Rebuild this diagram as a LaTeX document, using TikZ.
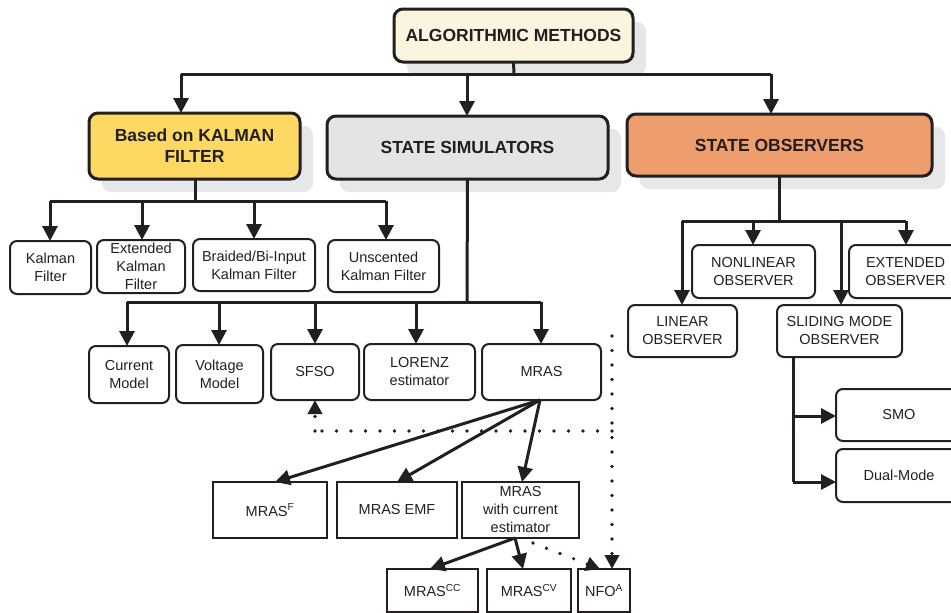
\documentclass[tikz,border=0pt]{standalone}
\usepackage{fontspec}
\setmainfont{Liberation Sans}
\usetikzlibrary{arrows.meta,backgrounds}
\definecolor{ink}{HTML}{231F20}
\definecolor{shadowgrey}{HTML}{E6E7E8}
\definecolor{creamfill}{HTML}{FBF5DF}
\definecolor{kalfill}{HTML}{FDD964}
\definecolor{simfill}{HTML}{E3E4E6}
\definecolor{obsfill}{HTML}{EE9E6C}
\tikzset{
  mainbox/.style={draw=ink, line width=3pt, rounded corners=9pt, align=center, inner sep=0pt, outer sep=0pt,
    text=ink, font=\fontsize{17.5}{21}\selectfont\bfseries},
  sbox/.style={draw=ink, line width=2pt, rounded corners=7pt, align=center, inner sep=0pt, outer sep=0pt,
    text=ink, font=\fontsize{14.5}{18}\selectfont},
  rbox/.style={draw=ink, line width=2.6pt, align=center, inner sep=0pt, outer sep=0pt,
    text=ink, font=\fontsize{14.5}{18}\selectfont},
  wire/.style={draw=ink, line width=3pt},
  conn/.style={draw=ink, line width=3pt, -{Triangle[length=15pt,width=15pt]}},
  dotline/.style={draw=ink, line width=3.6pt, line cap=round, dash pattern=on 0pt off 14.5pt},
  dotarrow/.style={dotline, -{Triangle[length=14pt,width=14pt]}},
  shadowbox/.style={fill=shadowgrey, rounded corners=9pt},
}
\begin{document}
\begin{tikzpicture}[x=1pt,y=-1pt]
\useasboundingbox (0,0) rectangle (951,613);
\clip (0,0) rectangle (951,613);
% main boxes
\node[mainbox, fill=creamfill, minimum width=239pt, minimum height=53pt] (alg) at (513.5,35.5) {ALGORITHMIC METHODS};
\node[mainbox, fill=kalfill, minimum width=211pt, minimum height=66pt] (kal) at (194.5,146) {Based on KALMAN\\FILTER};
\node[mainbox, fill=simfill, minimum width=281pt, minimum height=63pt] (sim) at (467.5,147.5) {STATE SIMULATORS};
\node[mainbox, fill=obsfill, minimum width=305pt, minimum height=62pt] (obs) at (779.5,145) {STATE OBSERVERS};
\begin{scope}[on background layer]
  \foreach \n in {alg,kal,sim,obs}
    \fill[shadowbox] ([shift={(13,13)}]\n.north west) rectangle ([shift={(13,13)}]\n.south east);
\end{scope}
% Kalman family
\node[sbox, minimum width=81pt, minimum height=53pt] (kf) at (50.5,267.5) {Kalman\\Filter};
\node[sbox, minimum width=88pt, minimum height=53pt] (ekf) at (141,266.5) {Extended\\Kalman\\Filter};
\node[sbox, minimum width=122pt, minimum height=52pt] (bkf) at (254,265) {Braided/Bi-Input\\Kalman Filter};
\node[sbox, minimum width=111pt, minimum height=52pt] (ukf) at (383.5,266) {Unscented\\Kalman Filter};
% simulators
\node[sbox, minimum width=80pt, minimum height=57pt] (cm) at (129,374.5) {Current\\Model};
\node[sbox, minimum width=87pt, minimum height=58pt] (vm) at (219.5,374) {Voltage\\Model};
\node[sbox, minimum width=88pt, minimum height=56pt] (sfso) at (315,372) {SFSO};
\node[sbox, minimum width=111pt, minimum height=56pt] (lor) at (419.5,372) {LORENZ\\estimator};
\node[sbox, minimum width=119pt, minimum height=56pt] (mras) at (541.5,372) {MRAS};
% observers
\node[sbox, minimum width=123pt, minimum height=53pt] (nonlin) at (753.5,271.5) {NONLINEAR\\OBSERVER};
\node[sbox, minimum width=113pt, minimum height=53pt] (ext) at (905.5,271.5) {EXTENDED\\OBSERVER};
\node[sbox, minimum width=109pt, minimum height=52pt] (lin) at (682.5,331) {LINEAR\\OBSERVER};
\node[sbox, minimum width=125pt, minimum height=52pt] (slide) at (839.5,331) {SLIDING MODE\\OBSERVER};
\node[sbox, minimum width=126pt, minimum height=52pt] (smo) at (899,415) {SMO};
\node[sbox, minimum width=126pt, minimum height=53pt] (dual) at (899,475.5) {Dual-Mode};
% MRAS family
\node[rbox, minimum width=114pt, minimum height=56pt] (mf) at (270,510) {MRAS\textsuperscript{F}};
\node[rbox, minimum width=120pt, minimum height=56pt] (memf) at (397,510) {MRAS EMF};
\node[rbox, minimum width=117pt, minimum height=56pt] (mce) at (520.5,510) {MRAS\\with current\\estimator};
\node[rbox, minimum width=91pt, minimum height=43pt] (mcc) at (432.5,590.5) {MRAS\textsuperscript{CC}};
\node[rbox, minimum width=84pt, minimum height=43pt] (mcv) at (529,590.5) {MRAS\textsuperscript{CV}};
\node[rbox, minimum width=52pt, minimum height=43pt] (nfo) at (604,590.5) {NFO\textsuperscript{A}};
% top bus
\coordinate (t0) at (514,74);
\coordinate (t1) at (181,74);
\coordinate (t2) at (467,74);
\coordinate (t3) at (771,74);
\draw[wire] (alg.south) -- (t0);
\draw[wire] (t1) -- (t3);
\draw[conn] (t1) -- (t1 |- kal.north);
\draw[conn] (t2) -- (t2 |- sim.north);
\draw[conn] (t3) -- (t3 |- obs.north);
% Kalman bus
\coordinate (k0) at (195,201);
\coordinate (k1) at (50,201);
\coordinate (k2) at (142,201);
\coordinate (k3) at (254,201);
\coordinate (k4) at (386,201);
\draw[wire] (k0 |- kal.south) -- (k0);
\draw[wire] (k1) -- (k4);
\draw[conn] (k1) -- (k1 |- kf.north);
\draw[conn] (k2) -- (k2 |- ekf.north);
\draw[conn] (k3) -- (k3 |- bkf.north);
\draw[conn] (k4) -- (k4 |- ukf.north);
% simulators bus
\coordinate (s0) at (467,302);
\coordinate (s1) at (127,302);
\coordinate (s2) at (219,302);
\coordinate (s3) at (315,302);
\coordinate (s4) at (416,302);
\coordinate (s5) at (541,302);
\draw[wire] (sim.south) -- (s0);
\draw[wire] (s1) -- (s5);
\draw[conn] (s1) -- (s1 |- cm.north);
\draw[conn] (s2) -- (s2 |- vm.north);
\draw[conn] (s3) -- (s3 |- sfso.north);
\draw[conn] (s4) -- (s4 |- lor.north);
\draw[conn] (s5) -- (s5 |- mras.north);
% observers bus
\coordinate (o0) at (779,221);
\coordinate (o1) at (682,221);
\coordinate (o2) at (753,221);
\coordinate (o3) at (841,221);
\coordinate (o4) at (906,221);
\draw[wire] (o0 |- obs.south) -- (o0);
\draw[wire] (o1) -- (o4);
\draw[conn] (o1) -- (o1 |- lin.north);
\draw[conn] (o2) -- (o2 |- nonlin.north);
\draw[conn] (o3) -- (o3 |- slide.north);
\draw[conn] (o4) -- (o4 |- ext.north);
% sliding mode branches
\coordinate (d0) at (793,357);
\coordinate (d1) at (793,416);
\coordinate (d2) at (793,482);
\draw[wire] (d0) -- (d2);
\draw[conn] (d1) -- (smo.west |- d1);
\draw[conn] (d2) -- (dual.west |- d2);
% MRAS branches
\coordinate (mb) at (540,400);
\draw[conn] (mb) -- (275,482);
\draw[conn] (mb) -- (397,482);
\draw[conn] (mb) -- (522,482);
\coordinate (cb) at (515,538);
\draw[conn] (cb) -- (430,569);
\draw[conn] (cb) -- (523,569);
% dotted
\coordinate (p0) at (612,336);
\coordinate (p1) at (612,431);
\coordinate (p2) at (315,431);
\coordinate (p3) at (533,543);
\draw[dotline] (p1) -- (p2);
\draw[dotarrow] (p2) -- (sfso.south);
\draw[dotarrow] (p0) -- (p0 |- nfo.north);
\draw[dotarrow] (p3) -- (600,569);
\end{tikzpicture}
\end{document}
